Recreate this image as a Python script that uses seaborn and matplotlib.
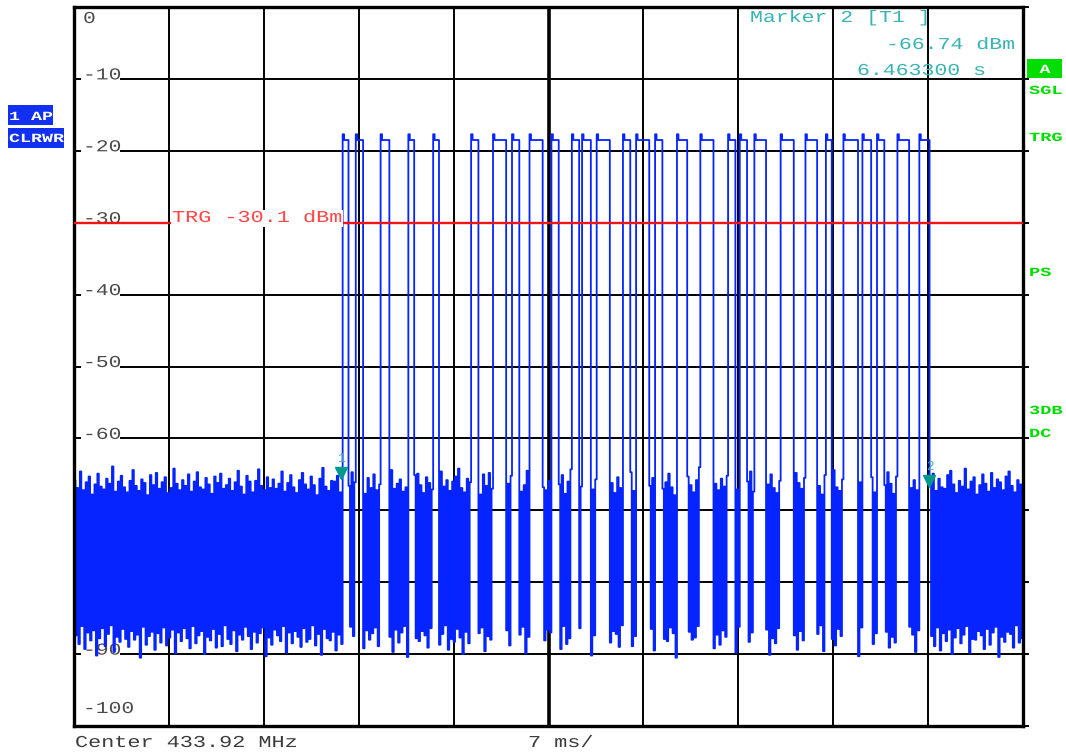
import numpy as np
import pandas as pd
import matplotlib
matplotlib.use("Agg")
import matplotlib.pyplot as plt
import seaborn as sns
from matplotlib.patches import Rectangle
from matplotlib.transforms import IdentityTransform, Affine2D
import matplotlib.patheffects as pe

sweep_ms = 70.0
n_points = 651
xtick_ms = [0, 7, 14, 21, 28, 35, 42, 49, 56, 63, 70]
ytick_dbm = [0, -10, -20, -30, -40, -50, -60, -70, -80, -90, -100]
ytick_labels = ["0", "-10", "-20", "-30", "-40", "-50", "-60", "", "", "-90", "-100"]

pulse_start_ms = [19.77, 20.73, 22.57, 24.56, 26.41, 29.21, 30.83, 32.23, 33.56, 35.11,
                  36.66, 37.47, 38.50, 40.42, 41.38, 42.78, 44.40, 46.17, 48.17, 49.05,
                  50.16, 52.08, 53.92, 55.40, 56.65, 58.12, 59.23, 60.71, 62.26]
pulse_end_ms = [20.14, 21.24, 23.16, 25.01, 26.85, 29.80, 31.79, 32.75, 34.52, 35.70,
                37.18, 38.06, 39.46, 41.01, 42.34, 43.37, 45.22, 47.13, 48.68, 49.57,
                50.97, 53.04, 54.81, 55.84, 57.76, 58.72, 59.75, 61.52, 63.07]
pulse_peak_dbm = -17.7
pulse_level_dbm = -18.5

noise_hi_dbm = [
    -65.8, -66.9, -64.6, -67.2, -66.1, -65.3, -67.8, -66.4, -64.9, -66.7,
    -67.1, -65.6, -66.3, -63.9, -67.4, -66.0, -65.2, -66.8, -67.5, -65.9,
    -64.4, -66.6, -67.3, -65.7, -66.2, -67.9, -65.1, -66.5, -64.8, -67.0,
    -66.1, -65.4, -67.6, -66.9, -64.2, -66.3, -67.2, -65.8, -66.6, -65.0,
    -67.4, -66.0, -64.7, -66.8, -67.1, -65.5, -66.4, -67.7, -65.3, -66.2,
    -64.9, -67.0, -66.5, -65.6, -67.3, -66.1, -64.5, -66.7, -67.8, -65.2,
    -66.0, -67.5, -65.9, -64.3, -66.6, -67.2, -65.4, -66.9, -65.7, -67.0,
    -66.3, -64.6, -67.4, -66.2, -65.1, -66.8, -67.6, -65.8, -64.8, -66.4,
    -67.1, -65.3, -66.5, -67.9, -65.6, -64.1, -66.7, -67.3, -65.9, -66.0,
    -65.2, -67.5, -66.6, -64.7, -66.1, -67.7, -65.5, -66.9, -65.0, -67.2,
    -66.4, -64.4, -67.0, -66.3, -65.7, -67.4, -66.8, -65.1, -64.9, -66.5,
    -67.6, -65.4, -66.2, -67.1, -64.6, -66.7, -65.8, -67.3, -66.0, -65.3,
    -64.2, -66.9, -67.5, -65.6, -66.1, -67.8, -65.0, -66.6, -64.8, -67.0,
    -66.3, -65.2, -67.4, -66.5, -64.5, -66.8, -67.2, -65.9, -66.4, -65.1,
    -67.7, -66.0, -64.3, -66.7, -67.1, -65.7, -66.2, -67.6, -65.4, -66.9,
    -64.7, -67.3, -66.6, -65.5, -67.0, -66.1, -64.9, -66.8, -67.9, -65.3,
    -66.5, -67.5, -65.8, -64.0, -66.3, -67.2, -65.6, -66.7, -65.2, -67.1,
    -66.0, -64.6, -67.4, -66.4, -65.0, -66.9, -67.6, -65.9, -64.8, -66.2,
    -67.0, -65.5, -66.6, -67.8, -65.1, -64.4, -66.8, -67.3, -65.7, -66.1,
    -65.4, -67.5, -66.5, -64.7, -66.3, -67.7, -65.3, -66.9, -65.8, -67.2,
    -66.2, -64.9, -67.3, -65.6, -66.8, -67.0, -65.1, -64.5, -66.4, -67.6,
    -65.9, -66.7, -64.2, -67.1, -66.0, -65.4, -67.8, -66.5, -65.0, -66.3,
    -67.4, -64.8, -66.9, -65.7, -66.1, -67.2, -65.3, -64.6, -66.6, -67.5,
    -65.8, -66.4, -64.3, -67.0, -66.2, -65.5, -67.7, -66.8, -65.2, -66.0]
noise_lo_dbm = [
    -87.4, -88.6, -86.1, -89.3, -87.0, -88.1, -86.7, -90.2, -87.8, -86.4,
    -88.9, -87.2, -86.0, -89.7, -87.6, -88.3, -86.5, -87.9, -89.0, -86.8,
    -88.0, -87.3, -90.5, -86.2, -88.7, -87.5, -86.9, -89.4, -87.1, -88.4,
    -86.3, -88.8, -87.7, -86.6, -89.9, -87.0, -88.2, -86.4, -87.8, -89.2,
    -86.1, -88.5, -87.4, -86.8, -90.0, -87.6, -88.1, -86.5, -89.1, -87.2,
    -88.9, -86.0, -87.9, -88.6, -86.7, -89.6, -87.3, -88.0, -86.2, -87.5,
    -89.3, -86.9, -88.4, -87.1, -86.3, -90.3, -87.7, -88.7, -86.6, -87.4,
    -88.2, -86.1, -89.8, -87.0, -88.5, -86.8, -87.6, -89.0, -86.4, -88.3,
    -87.9, -86.0, -88.8, -87.2, -90.1, -86.5, -87.8, -88.1, -86.9, -89.5,
    -87.3, -88.6, -86.2, -87.5, -89.2, -86.7, -88.0, -87.1, -86.3, -88.9,
    -87.6, -89.7, -86.6, -88.4, -87.0, -86.1, -90.4, -87.8, -88.2, -86.8,
    -87.4, -89.1, -86.4, -88.7, -87.2, -86.0, -89.4, -87.9, -88.3, -86.5,
    -87.7, -90.0, -86.9, -88.5, -87.1, -86.3, -89.6, -87.5, -88.0, -86.7,
    -88.8, -87.3, -86.2, -89.9, -87.6, -88.1, -86.6, -87.0, -89.3, -86.1,
    -88.6, -87.8, -86.4, -90.2, -87.4, -88.4, -86.8, -87.2, -89.0, -86.0,
    -88.9, -87.5, -86.5, -89.5, -87.9, -88.2, -86.3, -87.1, -90.5, -86.9,
    -88.0, -87.7, -86.1, -89.2, -87.3, -88.7, -86.7, -87.6, -89.8, -86.2,
    -88.3, -87.0, -86.6, -90.1, -87.8, -88.5, -86.4, -87.4, -89.4, -86.8,
    -88.1, -87.2, -86.0, -89.6, -87.9, -88.8, -86.5, -87.5, -90.3, -86.3,
    -88.6, -87.1, -86.9, -89.1, -87.6, -88.4, -86.2, -87.3, -89.7, -86.7,
    -87.5, -88.9, -86.3, -89.5, -87.1, -88.2, -86.6, -90.0, -87.7, -86.4,
    -88.5, -87.3, -86.1, -89.8, -87.9, -88.0, -86.8, -87.4, -89.3, -86.5,
    -88.7, -87.0, -86.2, -90.4, -87.6, -88.3, -86.9, -87.2, -89.1, -86.0,
    -88.4, -87.8, -86.7, -89.6, -87.5, -88.6, -86.3, -87.1, -90.2, -86.6]

trigger_dbm = -30.1
marker_ms = [19.7, 63.1]
marker_dbm = [-65.6, -66.74]
marker_names = ["1", "2"]

# ---------------- build the sweep trace ----------------
t_ms = np.linspace(0.0, sweep_ms, n_points)
level = []
k = 0
prev_pulse = None
for ti in t_ms:
    idx = None
    for j, (s, e) in enumerate(zip(pulse_start_ms, pulse_end_ms)):
        if s <= ti < e:
            idx = j
            break
    if idx is not None:
        level.append(pulse_peak_dbm if idx != prev_pulse else pulse_level_dbm)
    else:
        src = noise_hi_dbm if k % 2 == 0 else noise_lo_dbm
        level.append(src[(k // 2) % len(src)])
        k += 1
    prev_pulse = idx
trace = pd.DataFrame({"time_ms": t_ms, "level_dbm": level})

# ---------------- figure ----------------
sns.set_style("white")
plt.rcParams["font.family"] = ["Liberation Mono", "DejaVu Sans Mono"]

W, H = 1066, 753
L, R, T, B = 74, 1023, 7, 726
fig = plt.figure(figsize=(W / 100, H / 100), dpi=100)
fig.patch.set_facecolor("white")
ax = fig.add_axes([L / W, (H - B) / H, (R - L) / W, (B - T) / H])

BLUE = "#0524ff"
TEAL = "#3ab3b3"
GREEN = "#00dd00"
GREY = "#4a4a4a"
ID = IdentityTransform()


class HStretch(pe.AbstractPathEffect):
    """Widen glyphs horizontally about an anchor (text stays real text)."""
    def __init__(self, x0, sx):
        super().__init__()
        self.x0, self.sx = x0, sx

    def draw_path(self, renderer, gc, tpath, affine, rgbFace=None):
        a = affine + Affine2D().translate(-self.x0, 0).scale(self.sx, 1).translate(self.x0, 0)
        renderer.draw_path(gc, tpath, a, rgbFace)


def put(host, s, x, yb, size, color, adv, ha="left", weight="normal", z=6):
    nat = 0.6 * size * 100 / 72
    txt = host.text(x, H - yb, s, transform=ID, ha=ha, va="baseline", fontsize=size,
                    color=color, family="Liberation Mono", fontweight=weight, zorder=z)
    txt.set_path_effects([HStretch(x, adv / nat)])
    return txt


def box(host, x0, y0, x1, y1, color, z):
    r = Rectangle((x0, H - y1), x1 - x0, y1 - y0, transform=ID,
                  facecolor=color, edgecolor="none", zorder=z)
    host.add_artist(r)
    if host is ax:
        r.set_clip_on(False)
    return r


# trace
sns.lineplot(data=trace, x="time_ms", y="level_dbm", ax=ax, color=BLUE, lw=1.3,
             drawstyle="steps-post", estimator=None, sort=False, zorder=2, legend=False)

ax.set_xlim(0, sweep_ms)
ax.set_ylim(ytick_dbm[-1], ytick_dbm[0])
ax.set_xticks(xtick_ms)
ax.set_yticks(ytick_dbm)
ax.set_xlabel("")
ax.set_ylabel("")
ax.set_axisbelow(True)
ax.grid(True, color="black", lw=1.4)
ax.axvline(xtick_ms[5], color="black", lw=2.6, zorder=0.6)
ax.tick_params(axis="both", labelleft=False, labelbottom=False, length=0)
ax.tick_params(axis="y", right=True, length=4, width=1.4, direction="out", color="black")
for sp in ax.spines.values():
    sp.set_visible(True)
    sp.set_color("black")
    sp.set_linewidth(2.4)

# trigger line and label
ax.axhline(trigger_dbm, color="#f01414", lw=1.7, zorder=3)
box(ax, 171, 210, 343, 227, "white", 3.5)
put(ax, f"TRG {trigger_dbm} dBm", 172, 222, 12, "#ff4646", 13.1, z=4)

# y tick labels inside the grid
for v, lab in zip(ytick_dbm, ytick_labels):
    if not lab:
        continue
    y_img = H - ax.transData.transform((0, v))[1]
    if v == ytick_dbm[0]:
        yb = y_img + 16
    elif v == ytick_dbm[-1]:
        yb = y_img - 13
    else:
        yb = y_img + 0.5
        box(ax, 81, y_img - 11, 81 + len(lab) * 12.8 + 1, y_img + 3, "white", 1.0)
    put(ax, lab, 83, yb, 12, GREY, 12.8, z=1.1)

# markers
ax.plot(marker_ms, [m + 0.8 for m in marker_dbm], linestyle="none", marker="v",
        markersize=9, color="#00998c", zorder=5)
for mx, my, nm in zip(marker_ms, marker_dbm, marker_names):
    xd, yd = ax.transData.transform((mx, my))
    ax.text(xd, yd + 20, nm, transform=ID, ha="center", va="center",
            fontsize=9, color=TEAL, family="Liberation Mono", zorder=5)

# marker readout
put(ax, "Marker 2 [T1 ]", 750, 22, 12, TEAL, 12.9, z=6)
put(ax, f"{marker_dbm[1]:.2f} dBm", 1015, 49, 12, TEAL, 12.9, ha="right", z=6)
put(ax, "6.463300 s", 857, 75, 12, TEAL, 12.9, z=6)

# bottom annotations
put(fig, "Center 433.92 MHz", 75, 747, 12, "#3c3c3c", 13.1)
put(fig, "7 ms/", 528, 747, 12, "#3c3c3c", 13.1)

# left status boxes
box(fig, 8, 105, 53, 125, "#1230f0", 1)
put(fig, "1 AP", 9, 120, 9, "white", 11.0, weight="bold", z=2)
box(fig, 8, 128, 64, 148, "#1230f0", 1)
put(fig, "CLRWR", 9, 142, 9, "white", 11.0, weight="bold", z=2)

# right status column
box(fig, 1027, 59, 1062, 78, GREEN, 1)
put(fig, "A", 1045, 73, 9, "white", 11.0, ha="center", weight="bold", z=2)
for lab, yb in [("SGL", 94), ("TRG", 141), ("PS", 276), ("3DB", 414), ("DC", 437)]:
    put(fig, lab, 1029, yb, 9, GREEN, 11.2, weight="bold", z=2)

fig.savefig("out.png", dpi=100, facecolor="white")
